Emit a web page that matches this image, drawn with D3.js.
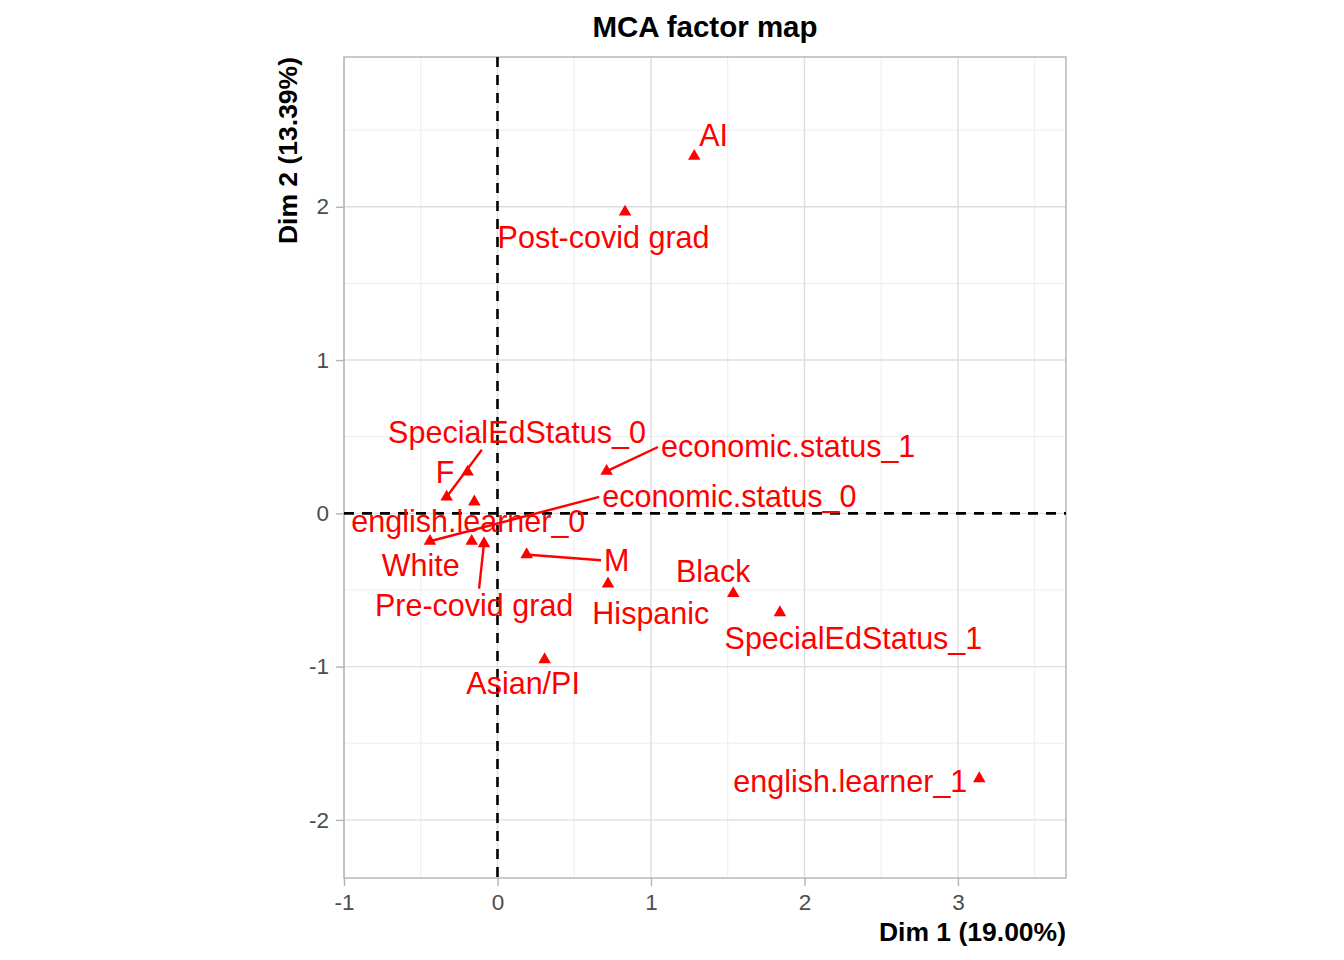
<!DOCTYPE html>
<html>
<head>
<meta charset="utf-8">
<script src="https://cdn.jsdelivr.net/npm/d3@7"></script>
<style>
  body { margin: 0; background: #fff; }
  svg { display: block; font-family: "Liberation Sans", Arial, Helvetica, sans-serif; }
</style>
</head>
<body>
<svg id="chart" width="1344" height="960"></svg>
<script>
// category names, coordinates on Dim 1 / Dim 2
var categories = ["AI", "Post-covid grad", "SpecialEdStatus_0", "F", "english.learner_0",
  "economic.status_1", "economic.status_0", "White", "Pre-covid grad", "M",
  "Hispanic", "Black", "SpecialEdStatus_1", "Asian/PI", "english.learner_1"];
var dim1 = [1.282, 0.831, -0.331, -0.195, -0.151, 0.711, -0.440, -0.168, -0.088, 0.190,
  0.720, 1.536, 1.840, 0.307, 3.139];
var dim2 = [2.330, 1.966, 0.107, 0.270, 0.075, 0.275, -0.182, -0.182, -0.197, -0.269,
  -0.460, -0.523, -0.647, -0.954, -1.730];
// where the repelled labels ended up (data units)
var labelX = [1.408, 0.691, 0.127, -0.342, -0.190, 1.894, 1.511, -0.500, -0.152, 0.777,
  0.999, 1.406, 2.319, 0.167, 2.299];
var labelY = [2.468, 1.802, 0.530, 0.269, -0.055, 0.434, 0.108, -0.337, -0.598, -0.305,
  -0.652, -0.381, -0.813, -1.109, -1.751];

var xTicks = [-1, 0, 1, 2, 3];
var yTicks = [-2, -1, 0, 1, 2];
var xMinor = [-0.5, 0.5, 1.5, 2.5, 3.5];
var yMinor = [-1.5, -0.5, 0.5, 1.5, 2.5];

var titleText = "MCA factor map";
var xTitle = "Dim 1 (19.00%)";
var yTitle = "Dim 2 (13.39%)";

var margin = {top: 57, left: 344, right: 278, bottom: 82};
var W = 1344, H = 960;
var pw = W - margin.left - margin.right,
    ph = H - margin.top - margin.bottom;

var svg = d3.select("#chart");
var g = svg.append("g").attr("transform", "translate(" + margin.left + "," + margin.top + ")");

var x = d3.scaleLinear().domain([-1.0, 3.704]).range([0, pw]);
var y = d3.scaleLinear().domain([-2.379, 2.977]).range([ph, 0]);

// grid
g.selectAll(".xminor").data(xMinor).enter().append("line")
  .attr("x1", d => x(d)).attr("x2", d => x(d)).attr("y1", 0).attr("y2", ph)
  .attr("stroke", "#ebebeb").attr("stroke-width", 0.9);
g.selectAll(".yminor").data(yMinor).enter().append("line")
  .attr("y1", d => y(d)).attr("y2", d => y(d)).attr("x1", 0).attr("x2", pw)
  .attr("stroke", "#ebebeb").attr("stroke-width", 0.9);
g.selectAll(".xmajor").data(xTicks).enter().append("line")
  .attr("x1", d => x(d)).attr("x2", d => x(d)).attr("y1", 0).attr("y2", ph)
  .attr("stroke", "#dedede").attr("stroke-width", 1.4);
g.selectAll(".ymajor").data(yTicks).enter().append("line")
  .attr("y1", d => y(d)).attr("y2", d => y(d)).attr("x1", 0).attr("x2", pw)
  .attr("stroke", "#dedede").attr("stroke-width", 1.4);

// axes
var xAxis = g.append("g").attr("transform", "translate(0," + ph + ")")
  .call(d3.axisBottom(x).tickValues(xTicks).tickFormat(d3.format("d")).tickSizeOuter(0).tickSize(8).tickPadding(8));
var yAxis = g.append("g")
  .call(d3.axisLeft(y).tickValues(yTicks).tickFormat(d3.format("d")).tickSizeOuter(0).tickSize(8).tickPadding(7));
[xAxis, yAxis].forEach(function(a) {
  a.select(".domain").remove();
  a.selectAll(".tick line").attr("stroke", "#b3b3b3").attr("stroke-width", 1.4);
  a.selectAll(".tick text").attr("fill", "#4d4d4d").style("font-size", "22.5px")
    .style("font-family", "Liberation Sans, Arial, sans-serif");
});
// hyphen instead of the unicode minus, like R
g.selectAll(".tick text").text(function(d) { return String(d); });

// panel border
g.append("rect").attr("width", pw).attr("height", ph)
  .attr("fill", "none").attr("stroke", "#b3b3b3").attr("stroke-width", 1.4);

// origin lines
g.append("line").attr("x1", x(0)).attr("x2", x(0)).attr("y1", 0).attr("y2", ph)
  .attr("stroke", "#000").attr("stroke-width", 2.6).attr("stroke-dasharray", "10,8");
g.append("line").attr("y1", y(0)).attr("y2", y(0)).attr("x1", 0).attr("x2", pw)
  .attr("stroke", "#000").attr("stroke-width", 2.6).attr("stroke-dasharray", "10,8");

var red = "#ff0000";
var segLayer = g.append("g");

// points
g.selectAll(".pt").data(categories).enter().append("path")
  .attr("d", d3.symbol().type(d3.symbolTriangle).size(68))
  .attr("transform", (d, i) => "translate(" + x(dim1[i]) + "," + y(dim2[i]) + ")")
  .attr("fill", red);

// labels
var labels = g.selectAll(".lab").data(categories).enter().append("text")
  .attr("x", (d, i) => x(labelX[i]))
  .attr("y", (d, i) => y(labelY[i]))
  .attr("dy", "0.35em")
  .attr("text-anchor", "middle")
  .attr("fill", red)
  .style("font-size", "30.5px")
  .text(d => d);

// repel segments: only when the label sits far from its point
labels.each(function(d, i) {
  var b = this.getBBox();
  var pad = 3;
  var x1 = b.x - pad, x2 = b.x + b.width + pad, y1 = b.y + 4 - pad, y2 = b.y + b.height - 3 + pad;
  var px = x(dim1[i]), py = y(dim2[i]);
  var dx = Math.max(x1 - px, 0, px - x2), dy = Math.max(y1 - py, 0, py - y2);
  if (Math.sqrt(dx * dx + dy * dy) < 28) return;
  var cx = (x1 + x2) / 2, cy = (y1 + y2) / 2;
  var sx, sy;
  if (px < x1 || px > x2) {
    sx = px < x1 ? x1 : x2; sy = cy;
  } else {
    sx = (px + cx) / 2; sy = py < y1 ? y1 : y2;
  }
  var len = Math.hypot(px - sx, py - sy), shrink = 2;
  segLayer.append("line")
    .attr("x1", sx).attr("y1", sy)
    .attr("x2", px - (px - sx) / len * shrink).attr("y2", py - (py - sy) / len * shrink)
    .attr("stroke", red).attr("stroke-width", 2.4);
});

// titles
svg.append("text").attr("x", margin.left + pw / 2).attr("y", 27).attr("dy", "0.35em")
  .attr("text-anchor", "middle").style("font-size", "29.5px").style("font-weight", "bold")
  .text(titleText);
svg.append("text").attr("x", margin.left + pw).attr("y", 932).attr("dy", "0.35em")
  .attr("text-anchor", "end").style("font-size", "26.5px").style("font-weight", "bold")
  .text(xTitle);
svg.append("text").attr("transform", "translate(288," + margin.top + ") rotate(-90)")
  .attr("dy", "0.35em").attr("text-anchor", "end")
  .style("font-size", "26.5px").style("font-weight", "bold")
  .text(yTitle);
</script>
</body>
</html>
